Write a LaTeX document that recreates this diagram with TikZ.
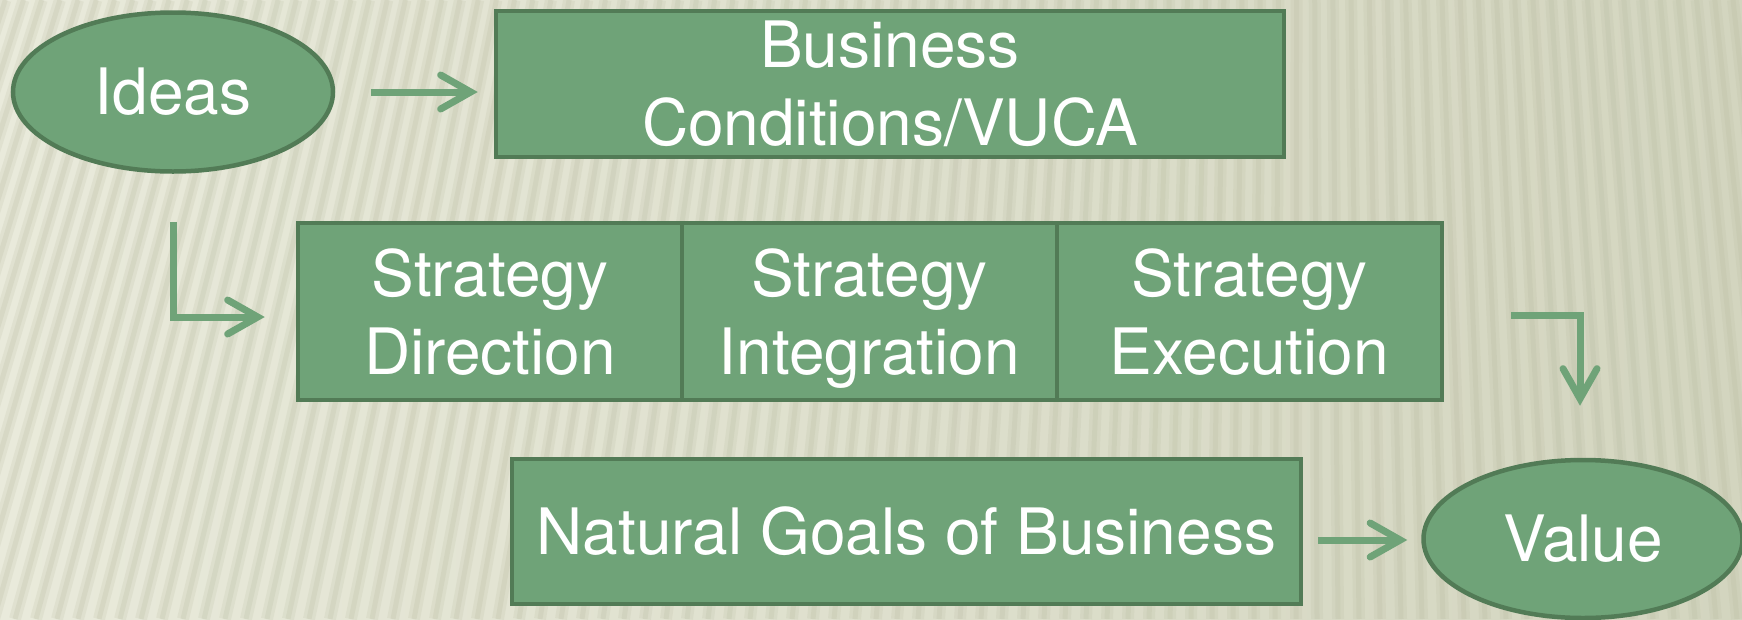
\documentclass[tikz,border=0pt]{standalone}
\usepackage{fontspec}
\setmainfont{TeX Gyre Heros}
\usetikzlibrary{shapes.geometric,arrows.meta,calc}
\definecolor{boxfill}{HTML}{6FA378}
\definecolor{boxline}{HTML}{527B56}
\definecolor{bgL}{HTML}{E9EADB}
\definecolor{bgR}{HTML}{D3D5BF}
\definecolor{stripe}{HTML}{B8BBA0}
\tikzset{
  gbox/.style={draw=boxline, fill=boxfill, line width=4.5pt, inner sep=0pt,
    text=white, font=\fontsize{64}{78}\selectfont, align=center},
  rectbox/.style={gbox, rectangle},
  ellbox/.style={gbox, ellipse},
  arr/.style={draw=boxfill, line width=7pt,
    -{Straight Barb[length=30pt,width=34pt,line width=7pt,line cap=round]}}
}
\begin{document}
\begin{tikzpicture}[x=1pt,y=-1pt]
\useasboundingbox (0,0) rectangle (1742,619);
\shade[left color=bgL, right color=bgR] (0,0) rectangle (1742,619);
\begin{scope}
\clip (0,0) rectangle (1742,619);
\foreach \i in {-300,-279,...,1900}{
  \draw[stripe, opacity=0.18, line width=12pt] ({1300+(\i-1300)*0.866},0) -- (\i,619);
  \draw[stripe, opacity=0.22, line width=5pt] ({1300+(\i-1300)*0.866},0) -- (\i,619);
}
\end{scope}
\node[ellbox, minimum width=320pt, minimum height=159pt] (ideas) at (173,92) {Ideas};
\node[rectbox, minimum width=788pt, minimum height=146pt] (business) at (890,84) {Business\\Conditions/VUCA};
\node[rectbox, text depth=0pt, minimum width=384pt, minimum height=177pt] (sd) at (490,311.5) {Strategy\\Direction};
\node[rectbox, text depth=0pt, minimum width=375pt, minimum height=177pt] (si) at (869.5,311.5) {Strategy\\Integration};
\node[rectbox, text depth=0pt, minimum width=385pt, minimum height=177pt] (se) at (1249.5,311.5) {Strategy\\Execution};
\node[rectbox, minimum width=789pt, minimum height=145pt] (natural) at (906.5,531.5) {Natural Goals of Business};
\node[ellbox, minimum width=319pt, minimum height=158pt] (value) at (1583,539) {Value};
\draw[arr] ($(ideas.east)+(36,0)$) -- ($(ideas.east -| business.west)+(-16,0)$);
\draw[arr] ($(ideas.south)+(0,48)$) |- ($(sd.west)+(-31,5.5)$);
\draw[arr] ($(se.east)+(67,3.5)$) -| ($(value.north)+(-3,-52)$);
\draw[arr] ($(natural.east)+(15,8.5)$) -- ($(value.west)+(-14,1)$);
\end{tikzpicture}
\end{document}
